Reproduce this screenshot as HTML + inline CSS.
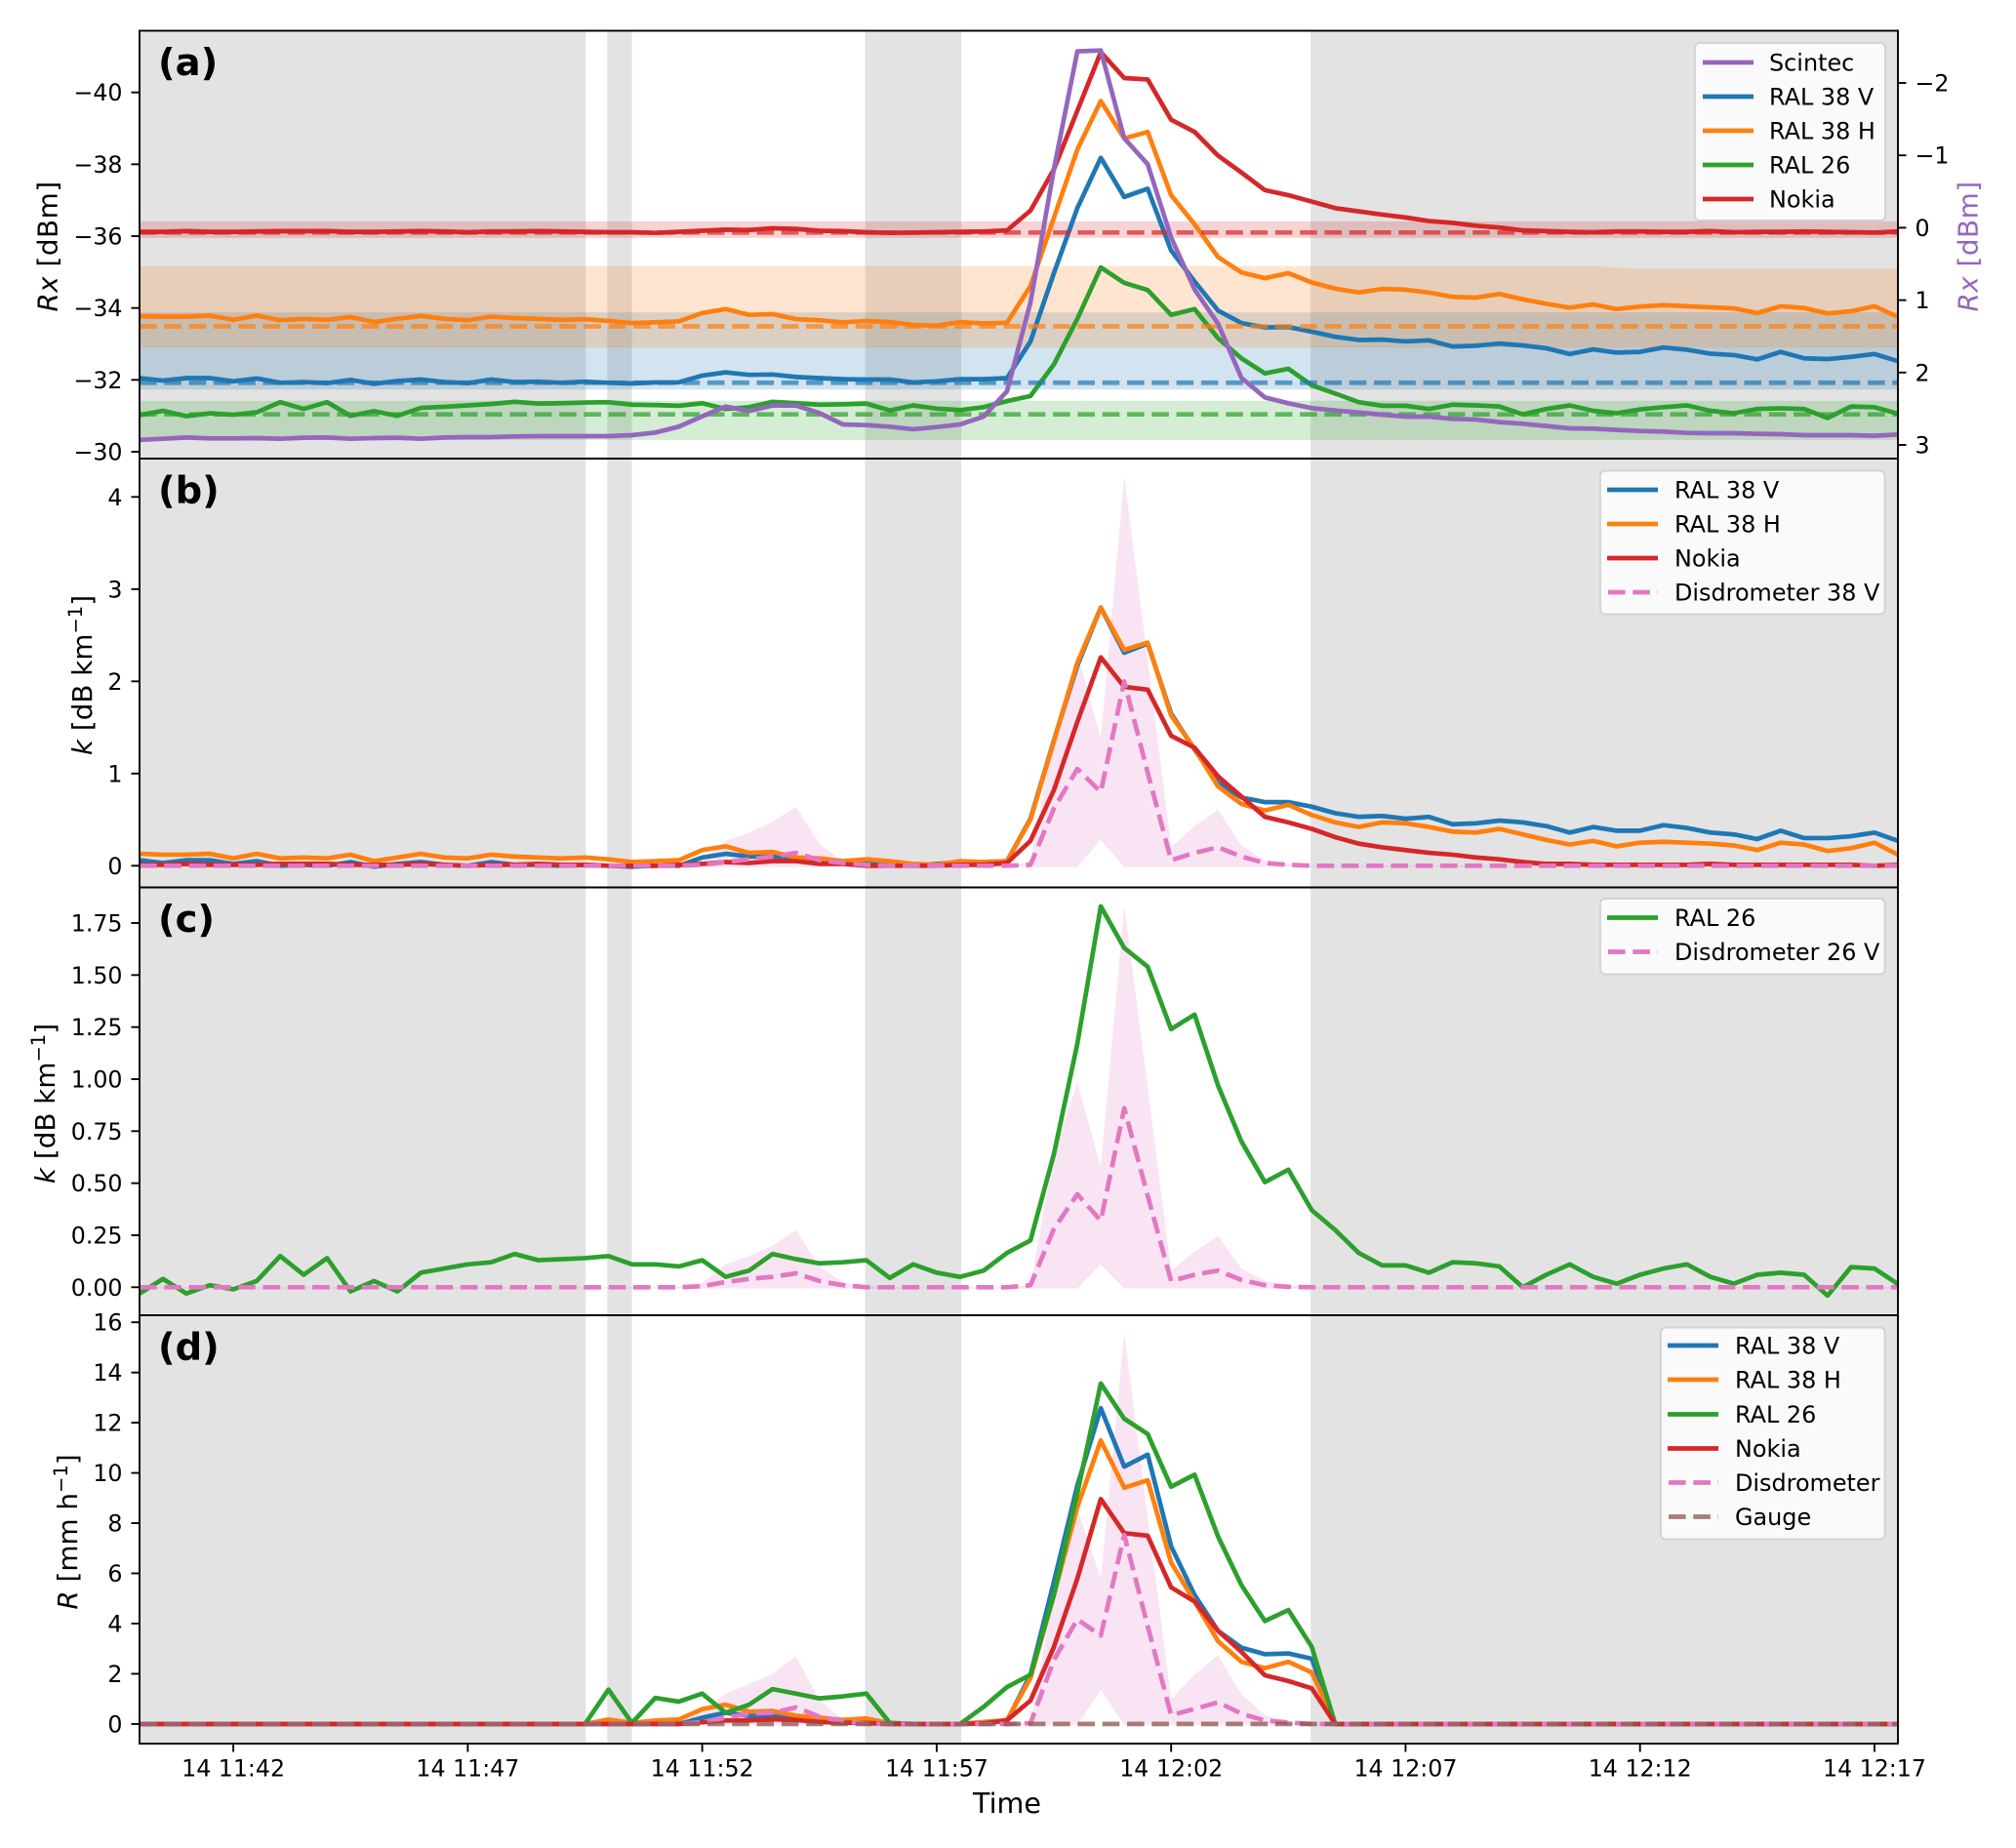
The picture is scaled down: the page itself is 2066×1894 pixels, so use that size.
<!DOCTYPE html>
<html lang="en">
<head>
<meta charset="utf-8">
<title>Rx, specific attenuation and rain rate time series</title>
<style>
html,body{margin:0;padding:0;background:#fff;}
svg{display:block;font-family:"DejaVu Sans","Liberation Sans",sans-serif;}
.tick{font-size:23.7px;fill:#000;}
.axis-title{font-size:27.8px;fill:#000;}
.legend-text{font-size:23.9px;fill:#000;}
.panel-letter{font-size:38.5px;font-weight:bold;fill:#000;}
</style>
</head>
<body>
<svg id="figure" xmlns="http://www.w3.org/2000/svg" width="2066" height="1894" viewBox="0 0 2066 1894">
  <rect x="0" y="0" width="2066" height="1894" fill="#ffffff"/>
  <defs>
    <clipPath id="clip-a"><rect x="143" y="31.5" width="1802" height="438.5"/></clipPath>
    <clipPath id="clip-b"><rect x="143" y="470" width="1802" height="439.5"/></clipPath>
    <clipPath id="clip-c"><rect x="143" y="909.5" width="1802" height="438.5"/></clipPath>
    <clipPath id="clip-d"><rect x="143" y="1348" width="1802" height="439"/></clipPath>
  </defs>

  <g id="panel-a"><g id="marks-a" clip-path="url(#clip-a)"></g></g>
  <g id="panel-b"><g id="marks-b" clip-path="url(#clip-b)"></g></g>
  <g id="panel-c"><g id="marks-c" clip-path="url(#clip-c)"></g></g>
  <g id="panel-d"><g id="marks-d" clip-path="url(#clip-d)"></g></g>
  <g id="axes-layer"></g>

  <text class="panel-letter" x="162" y="77">(a)</text>
  <text class="panel-letter" x="162" y="515.5">(b)</text>
  <text class="panel-letter" x="162" y="955">(c)</text>
  <text class="panel-letter" x="162" y="1393.5">(d)</text>

  <text class="axis-title" text-anchor="middle" letter-spacing="0.5" transform="translate(58.5 252.5) rotate(-90)"><tspan font-style="italic">Rx</tspan> [dBm]</text>
  <text class="axis-title" text-anchor="middle" letter-spacing="0.5" style="fill:#9467bd" transform="translate(2026.5 252.5) rotate(-90)"><tspan font-style="italic">Rx</tspan> [dBm]</text>
  <text class="axis-title" text-anchor="middle" transform="translate(94 692) rotate(-90)"><tspan font-style="italic">k</tspan> [dB km<tspan dy="-10" font-size="19.5">−1</tspan><tspan dy="10">]</tspan></text>
  <text class="axis-title" text-anchor="middle" transform="translate(56 1131) rotate(-90)"><tspan font-style="italic">k</tspan> [dB km<tspan dy="-10" font-size="19.5">−1</tspan><tspan dy="10">]</tspan></text>
  <text class="axis-title" text-anchor="middle" transform="translate(79 1570) rotate(-90)"><tspan font-style="italic">R</tspan> [mm h<tspan dy="-10" font-size="19.5">−1</tspan><tspan dy="10">]</tspan></text>
  <text class="axis-title" text-anchor="middle" style="font-size:28.6px" x="1032" y="1858">Time</text>

  <g>
    <rect x="1737" y="44" width="195" height="182" rx="5" fill="#fff" fill-opacity="0.8" stroke="#ccc" stroke-opacity="0.8" stroke-width="1.9"/>
    <g><line x1="1745" x2="1797" y1="64" y2="64" stroke="#9467bd" stroke-width="4.7"/><text class="legend-text" x="1813" y="72.5">Scintec</text></g>
    <g><line x1="1745" x2="1797" y1="99" y2="99" stroke="#1f77b4" stroke-width="4.7"/><text class="legend-text" x="1813" y="107.5">RAL 38 V</text></g>
    <g><line x1="1745" x2="1797" y1="134" y2="134" stroke="#ff7f0e" stroke-width="4.7"/><text class="legend-text" x="1813" y="142.5">RAL 38 H</text></g>
    <g><line x1="1745" x2="1797" y1="169" y2="169" stroke="#2ca02c" stroke-width="4.7"/><text class="legend-text" x="1813" y="177.5">RAL 26</text></g>
    <g><line x1="1745" x2="1797" y1="204" y2="204" stroke="#d62728" stroke-width="4.7"/><text class="legend-text" x="1813" y="212.5">Nokia</text></g>
  </g>

  <g>
    <rect x="1640" y="482.5" width="291.5" height="147" rx="5" fill="#fff" fill-opacity="0.8" stroke="#ccc" stroke-opacity="0.8" stroke-width="1.9"/>
    <g><line x1="1647" x2="1699" y1="502" y2="502" stroke="#1f77b4" stroke-width="4.7"/><text class="legend-text" x="1716" y="510.5">RAL 38 V</text></g>
    <g><line x1="1647" x2="1699" y1="537" y2="537" stroke="#ff7f0e" stroke-width="4.7"/><text class="legend-text" x="1716" y="545.5">RAL 38 H</text></g>
    <g><line x1="1647" x2="1699" y1="572" y2="572" stroke="#d62728" stroke-width="4.7"/><text class="legend-text" x="1716" y="580.5">Nokia</text></g>
    <g><line x1="1648" x2="1699" y1="607" y2="607" stroke="#e377c2" stroke-width="4.7" stroke-dasharray="17.6 7.7"/><text class="legend-text" x="1716" y="615.5">Disdrometer 38 V</text></g>
  </g>

  <g>
    <rect x="1640" y="921" width="291.5" height="77.5" rx="5" fill="#fff" fill-opacity="0.8" stroke="#ccc" stroke-opacity="0.8" stroke-width="1.9"/>
    <g><line x1="1647" x2="1699" y1="940.5" y2="940.5" stroke="#2ca02c" stroke-width="4.7"/><text class="legend-text" x="1716" y="949">RAL 26</text></g>
    <g><line x1="1648" x2="1699" y1="975.5" y2="975.5" stroke="#e377c2" stroke-width="4.7" stroke-dasharray="17.6 7.7"/><text class="legend-text" x="1716" y="984">Disdrometer 26 V</text></g>
  </g>

  <g>
    <rect x="1702" y="1360.5" width="229.5" height="217" rx="5" fill="#fff" fill-opacity="0.8" stroke="#ccc" stroke-opacity="0.8" stroke-width="1.9"/>
    <g><line x1="1709" x2="1761" y1="1379" y2="1379" stroke="#1f77b4" stroke-width="4.7"/><text class="legend-text" x="1778" y="1387.5">RAL 38 V</text></g>
    <g><line x1="1709" x2="1761" y1="1414" y2="1414" stroke="#ff7f0e" stroke-width="4.7"/><text class="legend-text" x="1778" y="1422.5">RAL 38 H</text></g>
    <g><line x1="1709" x2="1761" y1="1449.5" y2="1449.5" stroke="#2ca02c" stroke-width="4.7"/><text class="legend-text" x="1778" y="1458">RAL 26</text></g>
    <g><line x1="1709" x2="1761" y1="1484.5" y2="1484.5" stroke="#d62728" stroke-width="4.7"/><text class="legend-text" x="1778" y="1493">Nokia</text></g>
    <g><line x1="1710" x2="1761" y1="1519.5" y2="1519.5" stroke="#e377c2" stroke-width="4.7" stroke-dasharray="17.6 7.7"/><text class="legend-text" x="1778" y="1528">Disdrometer</text></g>
    <g><line x1="1710" x2="1761" y1="1554.5" y2="1554.5" stroke="#8c564b" stroke-opacity="0.75" stroke-width="4.7" stroke-dasharray="17.6 7.7"/><text class="legend-text" x="1778" y="1563">Gauge</text></g>
  </g>
</svg>

<script>
// Shared x data: tick labels and dry / wet sample ranges (30 s samples, sample 0 = 11:40:00)
const xTickLabels = ["14 11:42","14 11:47","14 11:52","14 11:57","14 12:02","14 12:07","14 12:12","14 12:17"];
const spanStarts = [0,19.95,30.95,49.95];
const spanEnds = [19.03,21,35.05,75];

// Panel (a) tick values
const aLeftTicks = [-40,-38,-36,-34,-32,-30];
const aRightTicks = [-2,-1,0,1,2,3];
const bTicks = [0,1,2,3,4];
const cTickLabels = ["0.00","0.25","0.50","0.75","1.00","1.25","1.50","1.75"];
const dTicks = [0,2,4,6,8,10,12,14,16];

// Panel (a) baselines and uncertainty bands, in dBm
const bandSamples = [0,62,64,75];
const bandNokiaHigh = [-36.41,-36.41,-36.41,-36.41];
const bandNokiaLow = [-35.95,-35.95,-35.95,-35.95];
const bandHHigh = [-35.17,-35.17,-35.09,-35.09];
const bandHLow = [-32.90,-32.90,-32.90,-32.90];
const bandVHigh = [-33.88,-33.88,-33.88,-33.88];
const bandVLow = [-31.73,-31.73,-31.73,-31.73];
const band26High = [-31.42,-31.42,-31.42,-31.42];
const band26Low = [-30.33,-30.33,-30.33,-30.33];
const baseNokia = -36.10;
const baseH = -33.49;
const baseV = -31.92;
const base26 = -31.04;

// Panel (a) series
const aRal38V = [-32.05,-31.98,-32.05,-32.05,-31.96,-32.04,-31.92,-31.94,-31.91,-32.00,
-31.89,-31.97,-32.01,-31.94,-31.91,-32.01,-31.94,-31.95,-31.92,-31.95,
-31.92,-31.90,-31.93,-31.93,-32.12,-32.21,-32.14,-32.15,-32.08,-32.05,
-32.02,-32.01,-32.01,-31.93,-31.96,-32.02,-32.02,-32.05,-33.07,-34.97,
-36.78,-38.18,-37.09,-37.32,-35.60,-34.74,-33.93,-33.58,-33.46,-33.47,
-33.34,-33.20,-33.11,-33.12,-33.07,-33.10,-32.93,-32.95,-33.01,-32.96,
-32.88,-32.72,-32.85,-32.76,-32.78,-32.90,-32.84,-32.73,-32.69,-32.57,
-32.78,-32.60,-32.58,-32.64,-32.72,-32.52];
const aRal38H = [-33.77,-33.76,-33.76,-33.79,-33.67,-33.79,-33.66,-33.70,-33.67,-33.75,
-33.61,-33.70,-33.78,-33.70,-33.66,-33.76,-33.72,-33.70,-33.67,-33.69,
-33.64,-33.58,-33.60,-33.63,-33.86,-33.97,-33.81,-33.83,-33.69,-33.66,
-33.60,-33.64,-33.61,-33.53,-33.51,-33.61,-33.57,-33.59,-34.61,-36.51,
-38.41,-39.76,-38.72,-38.90,-37.14,-36.33,-35.42,-34.99,-34.83,-34.97,
-34.71,-34.54,-34.43,-34.53,-34.51,-34.43,-34.31,-34.29,-34.39,-34.24,
-34.12,-34.01,-34.10,-33.97,-34.04,-34.08,-34.05,-34.02,-33.99,-33.86,
-34.05,-34.00,-33.85,-33.91,-34.05,-33.75];
const aRal26 = [-31.02,-31.14,-30.99,-31.07,-31.03,-31.10,-31.38,-31.19,-31.38,-31.00,
-31.13,-31.00,-31.22,-31.25,-31.29,-31.33,-31.39,-31.34,-31.35,-31.37,
-31.38,-31.31,-31.30,-31.28,-31.35,-31.19,-31.24,-31.39,-31.35,-31.31,
-31.32,-31.34,-31.15,-31.29,-31.20,-31.16,-31.24,-31.41,-31.55,-32.43,
-33.70,-35.13,-34.70,-34.50,-33.81,-33.97,-33.16,-32.60,-32.18,-32.31,
-31.85,-31.62,-31.38,-31.28,-31.28,-31.19,-31.31,-31.29,-31.26,-31.04,
-31.19,-31.29,-31.14,-31.07,-31.18,-31.24,-31.29,-31.14,-31.07,-31.19,
-31.21,-31.19,-30.94,-31.26,-31.24,-31.06];
const aNokia = [-36.12,-36.12,-36.14,-36.12,-36.12,-36.13,-36.14,-36.14,-36.14,-36.12,
-36.12,-36.13,-36.14,-36.13,-36.11,-36.13,-36.13,-36.14,-36.13,-36.12,
-36.11,-36.11,-36.09,-36.12,-36.15,-36.18,-36.17,-36.22,-36.20,-36.15,
-36.14,-36.11,-36.09,-36.10,-36.11,-36.12,-36.13,-36.16,-36.71,-37.86,
-39.49,-41.12,-40.40,-40.36,-39.24,-38.90,-38.24,-37.77,-37.28,-37.14,
-36.96,-36.78,-36.69,-36.60,-36.52,-36.42,-36.37,-36.29,-36.24,-36.16,
-36.14,-36.12,-36.11,-36.13,-36.13,-36.12,-36.12,-36.14,-36.11,-36.12,
-36.12,-36.13,-36.12,-36.11,-36.10,-36.13];
const aScintec = [2.93,2.915,2.897,2.91,2.91,2.906,2.915,2.901,2.897,2.915,
2.906,2.901,2.915,2.897,2.892,2.892,2.883,2.879,2.879,2.879,
2.879,2.865,2.829,2.748,2.605,2.47,2.533,2.456,2.456,2.56,
2.717,2.726,2.748,2.784,2.753,2.717,2.609,2.259,1.032,-0.81,
-2.436,-2.449,-1.236,-0.877,0.134,0.853,1.324,2.075,2.344,2.425,
2.492,2.524,2.551,2.582,2.609,2.609,2.64,2.649,2.685,2.708,
2.739,2.771,2.775,2.793,2.807,2.816,2.834,2.838,2.838,2.847,
2.852,2.865,2.865,2.865,2.874,2.856];

// Panel (b) series
const bRal38V = [0.06,0.03,0.06,0.06,0.02,0.05,0,0.01,0,0.04,
-0.01,0.02,0.04,0.01,0,0.04,0.01,0.01,0,0.01,
0,-0.01,0,0,0.09,0.13,0.10,0.10,0.07,0.06,
0.04,0.04,0.04,0,0.02,0.04,0.04,0.05,0.51,1.36,
2.17,2.80,2.31,2.41,1.65,1.26,0.90,0.74,0.69,0.69,
0.64,0.57,0.53,0.54,0.51,0.53,0.45,0.46,0.49,0.47,
0.43,0.36,0.42,0.38,0.38,0.44,0.41,0.36,0.34,0.29,
0.38,0.30,0.30,0.32,0.36,0.27];
const bRal38H = [0.13,0.12,0.12,0.13,0.08,0.13,0.08,0.09,0.08,0.12,
0.05,0.09,0.13,0.09,0.08,0.12,0.10,0.09,0.08,0.09,
0.07,0.04,0.05,0.06,0.17,0.21,0.14,0.15,0.09,0.08,
0.05,0.07,0.05,0.02,0.01,0.05,0.04,0.05,0.50,1.35,
2.20,2.80,2.34,2.42,1.63,1.27,0.86,0.67,0.60,0.66,
0.55,0.47,0.42,0.47,0.46,0.42,0.37,0.36,0.40,0.34,
0.28,0.23,0.27,0.21,0.25,0.26,0.25,0.24,0.22,0.17,
0.25,0.23,0.16,0.19,0.25,0.12];
const bNokia = [0.01,0.01,0.02,0.01,0.01,0.01,0.02,0.02,0.02,0.01,
0.01,0.01,0.02,0.01,0,0.01,0.01,0.02,0.01,0.01,
0,0,0,0.01,0.02,0.04,0.03,0.05,0.05,0.02,
0.02,0,0,0,0,0.01,0.01,0.03,0.27,0.82,
1.56,2.26,1.94,1.91,1.41,1.28,0.97,0.75,0.53,0.47,
0.40,0.31,0.24,0.20,0.17,0.14,0.12,0.09,0.07,0.04,
0.02,0.02,0.01,0.01,0.01,0.01,0.01,0.02,0.01,0.01,
0.01,0.01,0.01,0.01,0,0.01];
const bDis38 = [0,0,0,0,0,0,0,0,0,0,
0,0,0,0,0,0,0,0,0,0,
0,0,0,0,0.01,0.04,0.07,0.10,0.14,0.06,
0.03,0.01,0,0,0,0,0,0,0.01,0.62,
1.05,0.80,2.00,1.01,0.06,0.14,0.20,0.10,0.03,0.01,
0,0,0,0,0,0,0,0,0,0,
0,0,0,0,0,0,0,0,0,0,
0,0,0,0,0,0];
const bDisHigh = [0,0,0,0,0,0,0,0,0,0,
0,0,0,0,0,0,0,0,0,0,
0,0,0,0.01,0.06,0.27,0.36,0.48,0.64,0.24,
0.04,0,0,0,0,0,0,0,0.04,1.45,
2.30,1.38,4.22,2.23,0.20,0.43,0.61,0.22,0.06,0.02,
0,0,0,0,0,0,0,0,0,0,
0,0,0,0,0,0,0,0,0,0,
0,0,0,0,0,0];
const bDisLow = [-0.014,-0.014,-0.014,-0.014,-0.014,-0.014,-0.014,-0.014,-0.014,-0.014,
-0.014,-0.014,-0.014,-0.014,-0.014,-0.014,-0.014,-0.014,-0.014,-0.014,
-0.014,-0.014,-0.014,-0.014,-0.014,-0.014,-0.014,-0.014,-0.014,-0.014,
-0.014,-0.014,-0.014,-0.014,-0.014,-0.014,-0.014,-0.014,-0.014,-0.014,
-0.014,0.28,-0.014,-0.014,-0.014,-0.014,-0.014,-0.014,-0.014,-0.014,
-0.014,-0.014,-0.014,-0.014,-0.014,-0.014,-0.014,-0.014,-0.014,-0.014,
-0.014,-0.014,-0.014,-0.014,-0.014,-0.014,-0.014,-0.014,-0.014,-0.014,
-0.014,-0.014,-0.014,-0.014,-0.014,-0.014];

// Panel (c) series
const cRal26 = [-0.03,0.04,-0.03,0.01,-0.01,0.03,0.15,0.06,0.14,-0.02,
0.03,-0.02,0.07,0.09,0.11,0.12,0.16,0.13,0.135,0.14,
0.15,0.11,0.11,0.10,0.13,0.05,0.08,0.16,0.135,0.115,
0.12,0.13,0.045,0.11,0.07,0.05,0.08,0.165,0.225,0.64,
1.17,1.83,1.63,1.54,1.24,1.31,0.97,0.70,0.505,0.565,
0.37,0.275,0.165,0.105,0.105,0.07,0.12,0.115,0.10,0,
0.06,0.11,0.05,0.017,0.06,0.09,0.11,0.05,0.017,0.06,
0.07,0.06,-0.04,0.097,0.09,0.015];
const cDis26 = [0,0,0,0,0,0,0,0,0,0,
0,0,0,0,0,0,0,0,0,0,
0,0,0,0,0.005,0.025,0.04,0.05,0.067,0.03,
0.01,0,0,0,0,0,0,0,0.01,0.28,
0.447,0.32,0.86,0.44,0.03,0.06,0.08,0.035,0.01,0.002,
0,0,0,0,0,0,0,0,0,0,
0,0,0,0,0,0,0,0,0,0,
0,0,0,0,0,0];
const cDisHigh = [0,0,0,0,0,0,0,0,0,0,
0,0,0,0,0,0,0,0,0,0,
0,0,0,0.003,0.02,0.11,0.15,0.20,0.275,0.10,
0.025,0.005,0,0,0,0,0,0,0.01,0.64,
0.985,0.575,1.83,0.96,0.08,0.17,0.247,0.09,0.03,0.01,
0,0,0,0,0,0,0,0,0,0,
0,0,0,0,0,0,0,0,0,0,
0,0,0,0,0,0];
const cDisLow = [-0.006,-0.006,-0.006,-0.006,-0.006,-0.006,-0.006,-0.006,-0.006,-0.006,
-0.006,-0.006,-0.006,-0.006,-0.006,-0.006,-0.006,-0.006,-0.006,-0.006,
-0.006,-0.006,-0.006,-0.006,-0.006,-0.006,-0.006,-0.006,-0.006,-0.006,
-0.006,-0.006,-0.006,-0.006,-0.006,-0.006,-0.006,-0.006,-0.006,-0.006,
-0.006,0.11,-0.006,-0.006,-0.006,-0.006,-0.006,-0.006,-0.006,-0.006,
-0.006,-0.006,-0.006,-0.006,-0.006,-0.006,-0.006,-0.006,-0.006,-0.006,
-0.006,-0.006,-0.006,-0.006,-0.006,-0.006,-0.006,-0.006,-0.006,-0.006,
-0.006,-0.006,-0.006,-0.006,-0.006,-0.006];

// Panel (d) series
const dRal38V = [0,0,0,0,0,0,0,0,0,0,
0,0,0,0,0,0,0,0,0,0,
0,0,0,0,0.25,0.45,0.32,0.32,0.18,0.14,
0.08,0.05,0,0,0,0,0.05,0.12,1.96,5.66,
9.5,12.58,10.25,10.73,7.08,5.14,3.71,3.04,2.78,2.81,
2.60,0,0,0,0,0,0,0,0,0,
0,0,0,0,0,0,0,0,0,0,
0,0,0,0,0,0];
const dRal38H = [0,0,0,0,0,0,0,0,0,0,
0,0,0,0,0,0,0,0,0,0,
0.18,0.04,0.14,0.18,0.59,0.77,0.49,0.52,0.33,0.25,
0.16,0.22,0.03,0,0,0,0.08,0.15,1.83,5.14,
8.64,11.29,9.41,9.71,6.43,4.88,3.30,2.48,2.22,2.48,
2.05,0,0,0,0,0,0,0,0,0,
0,0,0,0,0,0,0,0,0,0,
0,0,0,0,0,0];
const dRal26 = [0,0,0,0,0,0,0,0,0,0,
0,0,0,0,0,0,0,0,0,0,
1.37,0.04,1.04,0.89,1.21,0.45,0.77,1.39,1.21,1.02,
1.10,1.21,0.04,0,0,0,0.68,1.47,1.96,5.14,
9.2,13.56,12.16,11.55,9.45,9.93,7.47,5.53,4.10,4.54,
3.07,0,0,0,0,0,0,0,0,0,
0,0,0,0,0,0,0,0,0,0,
0,0,0,0,0,0];
const dNokia = [0,0,0,0,0,0,0,0,0,0,
0,0,0,0,0,0,0,0,0,0,
0,0,0,0,0.07,0.14,0.14,0.19,0.16,0.08,
0.05,0.04,0,0,0,0,0.02,0.15,0.93,3.07,
5.79,8.96,7.6,7.5,5.44,4.88,3.71,2.87,1.94,1.71,
1.42,0,0,0,0,0,0,0,0,0,
0,0,0,0,0,0,0,0,0,0,
0,0,0,0,0,0];
const dDisdrometer = [0,0,0,0,0,0,0,0,0,0,
0,0,0,0,0,0,0,0,0,0,
0,0,0,0,0.07,0.25,0.41,0.45,0.66,0.29,
0.11,0.01,0,0,0,0,0,0,0.03,2.55,
4.17,3.52,7.53,3.9,0.35,0.6,0.86,0.41,0.14,0.06,
0,0,0,0,0,0,0,0,0,0,
0,0,0,0,0,0,0,0,0,0,
0,0,0,0,0,0];
const dGauge = [0,0,0,0,0,0,0,0,0,0,
0,0,0,0,0,0,0,0,0,0,
0,0,0,0,0,0,0,0,0,0,
0,0,0,0,0,0,0,0,0,0,
0,0,0,0,0,0,0,0,0,0,
0,0,0,0,0,0,0,0,0,0,
0,0,0,0,0,0,0,0,0,0,
0,0,0,0,0,0];
const dDisHigh = [0,0,0,0,0,0,0,0,0,0,
0,0,0,0,0,0,0,0,0,0,
0,0,0,0,0.52,1.21,1.59,2.0,2.69,0.93,
0.18,0.04,0,0,0,0,0,0,0.05,5.3,
8.6,5.79,15.56,8.25,1.0,1.96,2.74,1.19,0.35,0.11,
0,0,0,0,0,0,0,0,0,0,
0,0,0,0,0,0,0,0,0,0,
0,0,0,0,0,0];
const dDisLow = [-0.04,-0.04,-0.04,-0.04,-0.04,-0.04,-0.04,-0.04,-0.04,-0.04,
-0.04,-0.04,-0.04,-0.04,-0.04,-0.04,-0.04,-0.04,-0.04,-0.04,
-0.04,-0.04,-0.04,-0.04,-0.04,-0.04,-0.04,-0.04,-0.04,-0.04,
-0.04,-0.04,-0.04,-0.04,-0.04,-0.04,-0.04,-0.04,-0.04,-0.04,
-0.04,1.36,-0.04,-0.04,-0.04,-0.04,-0.04,-0.04,-0.04,-0.04,
-0.04,-0.04,-0.04,-0.04,-0.04,-0.04,-0.04,-0.04,-0.04,-0.04,
-0.04,-0.04,-0.04,-0.04,-0.04,-0.04,-0.04,-0.04,-0.04,-0.04,
-0.04,-0.04,-0.04,-0.04,-0.04,-0.04];

// ---- axis functions ----
const NS = 'http://www.w3.org/2000/svg';
const LEFT = 143, RIGHT = 1945, LW = 4.7, DASH = '17.6 7.7';
const tops = {a:31.5, b:470, c:909.5, d:1348};
const bots = {a:470, b:909.5, c:1348, d:1787};
const lastSample = 75;
function xAxis(sample){ return LEFT + sample * (RIGHT - LEFT) / lastSample; }
function linear(v0, y0, v1, y1){ return function(v){ return y0 + (v - v0) * (y1 - y0) / (v1 - v0); }; }
const yALeft = linear(-30, 463, -40, 94.7);
const yARight = linear(0, 233.4, 3, 456);
const yB = linear(0, 887.3, 4, 509.3);
const yC = linear(0, 1319.3, 1.75, 946);
const yD = linear(0, 1766.9, 16, 1355.2);
function pathFrom(samples, values, yFn){
  let d = '';
  for (let k = 0; k < values.length; k++) {
    d += (k ? 'L' : 'M') + xAxis(samples ? samples[k] : k).toFixed(2) + ' ' + yFn(values[k]).toFixed(2);
  }
  return d;
}
function drawLine(parent, name, values, yFn, color, opts){
  const el = document.createElementNS(NS, 'path');
  
  
  el.setAttribute('d', pathFrom(null, values, yFn));
  el.setAttribute('fill', 'none');
  el.setAttribute('stroke', color);
  el.setAttribute('stroke-width', LW);
  el.setAttribute('stroke-linejoin', 'round');
  if (opts && opts.dash) el.setAttribute('stroke-dasharray', DASH);
  if (opts && opts.alpha) el.setAttribute('stroke-opacity', opts.alpha);
  parent.appendChild(el);
}
function drawBand(parent, name, samples, high, low, yFn, color, alpha){
  const revS = samples ? samples.slice().reverse() : null;
  const revL = low.slice().reverse();
  let d = pathFrom(samples, high, yFn);
  for (let k = 0; k < revL.length; k++) {
    const s = revS ? revS[k] : (revL.length - 1 - k);
    d += 'L' + xAxis(s).toFixed(2) + ' ' + yFn(revL[k]).toFixed(2);
  }
  const el = document.createElementNS(NS, 'path');
  
  
  el.setAttribute('d', d + 'Z');
  el.setAttribute('fill', color);
  el.setAttribute('fill-opacity', alpha);
  parent.appendChild(el);
}
function drawBaseline(parent, name, value, yFn, color){
  const el = document.createElementNS(NS, 'line');
  
  
  el.setAttribute('x1', LEFT);
  el.setAttribute('x2', RIGHT);
  el.setAttribute('y1', yFn(value));
  el.setAttribute('y2', yFn(value));
  el.setAttribute('stroke', color);
  el.setAttribute('stroke-opacity', 0.7);
  el.setAttribute('stroke-width', LW);
  el.setAttribute('stroke-dasharray', DASH);
  parent.appendChild(el);
}
function drawSpans(parent, key){
  for (let s = 0; s < spanStarts.length; s++) {
    const el = document.createElementNS(NS, 'rect');
    
    
    el.setAttribute('x', xAxis(spanStarts[s]));
    el.setAttribute('width', xAxis(spanEnds[s]) - xAxis(spanStarts[s]));
    el.setAttribute('y', tops[key]);
    el.setAttribute('height', bots[key] - tops[key]);
    el.setAttribute('fill', '#e3e3e3');
    parent.appendChild(el);
  }
}
function drawYTick(layer, y, label, side){
  const dir = side === 'right' ? 1 : -1;
  const x0 = side === 'right' ? RIGHT : LEFT;
  const t = document.createElementNS(NS, 'line');
  
  
  t.setAttribute('x1', x0);
  t.setAttribute('x2', x0 + dir * 8.5);
  t.setAttribute('y1', y);
  t.setAttribute('y2', y);
  t.setAttribute('stroke', '#000');
  t.setAttribute('stroke-width', 1.9);
  layer.appendChild(t);
  const l = document.createElementNS(NS, 'text');
  
  
  l.setAttribute('class', 'tick');
  l.setAttribute('x', x0 + dir * 17.5);
  l.setAttribute('y', y + 8.5);
  l.setAttribute('text-anchor', side === 'right' ? 'start' : 'end');
  l.textContent = label;
  layer.appendChild(l);
}
function signed(v){ return (v < 0 ? '\u2212' : '') + Math.abs(v); }

// ---- panels ----
const mA = document.getElementById('marks-a');
const mB = document.getElementById('marks-b');
const mC = document.getElementById('marks-c');
const mD = document.getElementById('marks-d');
const axesLayer = document.getElementById('axes-layer');

const BLUE = '#1f77b4', ORANGE = '#ff7f0e', GREEN = '#2ca02c', RED = '#d62728', PURPLE = '#9467bd', PINK = '#e377c2', BROWN = '#8c564b';

drawSpans(mA, 'a');
drawBand(mA, 'band-ral-38-v', bandSamples, bandVHigh, bandVLow, yALeft, BLUE, 0.2);
drawBand(mA, 'band-ral-38-h', bandSamples, bandHHigh, bandHLow, yALeft, ORANGE, 0.2);
drawBand(mA, 'band-ral-26', bandSamples, band26High, band26Low, yALeft, GREEN, 0.2);
drawBand(mA, 'band-nokia', bandSamples, bandNokiaHigh, bandNokiaLow, yALeft, RED, 0.2);
drawLine(mA, 'line-ral-38-v', aRal38V, yALeft, BLUE);
drawLine(mA, 'line-ral-38-h', aRal38H, yALeft, ORANGE);
drawLine(mA, 'line-ral-26', aRal26, yALeft, GREEN);
drawLine(mA, 'line-nokia', aNokia, yALeft, RED);
drawBaseline(mA, 'baseline-ral-38-v', baseV, yALeft, BLUE);
drawBaseline(mA, 'baseline-ral-38-h', baseH, yALeft, ORANGE);
drawBaseline(mA, 'baseline-ral-26', base26, yALeft, GREEN);
drawBaseline(mA, 'baseline-nokia', baseNokia, yALeft, RED);
drawLine(mA, 'line-scintec', aScintec, yARight, PURPLE);

drawSpans(mB, 'b');
drawBand(mB, 'disdrometer-38-v-range', null, bDisHigh, bDisLow, yB, PINK, 0.2);
drawLine(mB, 'line-ral-38-v', bRal38V, yB, BLUE);
drawLine(mB, 'line-ral-38-h', bRal38H, yB, ORANGE);
drawLine(mB, 'line-nokia', bNokia, yB, RED);
drawLine(mB, 'line-disdrometer-38-v', bDis38, yB, PINK, {dash:true});

drawSpans(mC, 'c');
drawBand(mC, 'disdrometer-26-v-range', null, cDisHigh, cDisLow, yC, PINK, 0.2);
drawLine(mC, 'line-ral-26', cRal26, yC, GREEN);
drawLine(mC, 'line-disdrometer-26-v', cDis26, yC, PINK, {dash:true});

drawSpans(mD, 'd');
drawBand(mD, 'disdrometer-range', null, dDisHigh, dDisLow, yD, PINK, 0.2);
drawLine(mD, 'line-ral-38-v', dRal38V, yD, BLUE);
drawLine(mD, 'line-ral-38-h', dRal38H, yD, ORANGE);
drawLine(mD, 'line-ral-26', dRal26, yD, GREEN);
drawLine(mD, 'line-nokia', dNokia, yD, RED);
drawLine(mD, 'line-disdrometer', dDisdrometer, yD, PINK, {dash:true});
drawLine(mD, 'line-gauge', dGauge, yD, BROWN, {dash:true, alpha:0.75});

// frames
for (const key of ['a','b','c','d']) {
  const f = document.createElementNS(NS, 'rect');
  
  
  f.setAttribute('x', LEFT);
  f.setAttribute('y', tops[key]);
  f.setAttribute('width', RIGHT - LEFT);
  f.setAttribute('height', bots[key] - tops[key]);
  f.setAttribute('fill', 'none');
  f.setAttribute('stroke', '#000');
  f.setAttribute('stroke-width', 1.9);
  axesLayer.appendChild(f);
}

// y ticks
aLeftTicks.forEach(function(v){ drawYTick(axesLayer, yALeft(v), signed(v), 'left'); });
aRightTicks.forEach(function(v){ drawYTick(axesLayer, yARight(v), signed(v), 'right'); });
bTicks.forEach(function(v){ drawYTick(axesLayer, yB(v), signed(v), 'left'); });
cTickLabels.forEach(function(s){ drawYTick(axesLayer, yC(parseFloat(s)), s, 'left'); });
dTicks.forEach(function(v){ drawYTick(axesLayer, yD(v), signed(v), 'left'); });

// x ticks: labels parsed to a sample index (two samples per minute from 11:40)
xTickLabels.forEach(function(lab){
  const hm = lab.split(' ')[1].split(':');
  const sample = ((+hm[0] - 11) * 60 + (+hm[1]) - 40) * 2;
  const x = xAxis(sample);
  const t = document.createElementNS(NS, 'line');
  
  
  t.setAttribute('x1', x);
  t.setAttribute('x2', x);
  t.setAttribute('y1', bots.d);
  t.setAttribute('y2', bots.d + 8.5);
  t.setAttribute('stroke', '#000');
  t.setAttribute('stroke-width', 1.9);
  axesLayer.appendChild(t);
  const l = document.createElementNS(NS, 'text');
  
  
  l.setAttribute('class', 'tick');
  l.setAttribute('x', x);
  l.setAttribute('y', 1820.5);
  l.setAttribute('text-anchor', 'middle');
  l.textContent = lab;
  axesLayer.appendChild(l);
});
</script>
</body>
</html>
